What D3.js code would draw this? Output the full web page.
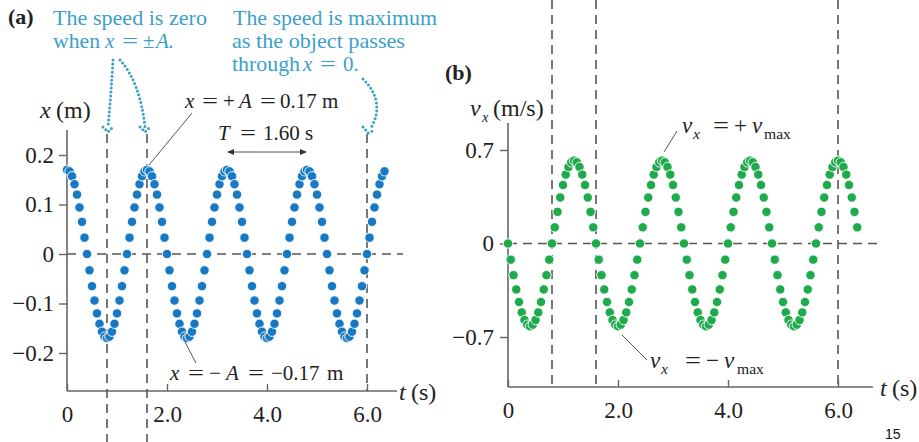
<!DOCTYPE html>
<html lang="en">
<head>
<meta charset="utf-8">
<script src="https://d3js.org/d3.v7.min.js"></script>
<title>Simple harmonic motion: x(t) and vx(t)</title>
<style>
  body { margin: 0; background: #fff; }
  svg { display: block; font-family: "Liberation Serif", "DejaVu Serif", serif; }
  .axis-line { stroke: #666; stroke-width: 1.6; fill: none; }
  .dash { stroke: #555; stroke-width: 1.6; stroke-dasharray: 9,6; fill: none; }
  .leader { stroke: #555; stroke-width: 1; fill: none; }
  .dotted { stroke: #3b9fcc; stroke-width: 3; stroke-linecap: round; stroke-dasharray: 0,4; fill: none; }
</style>
</head>
<body>
<svg id="chart" width="919" height="442"></svg>
<script>
// strobe samples, one every 0.05 s
var sampleTimes = [
  0, 0.05, 0.1, 0.15, 0.2, 0.25, 0.3, 0.35, 0.4, 0.45, 0.5, 0.55, 0.6, 0.65, 0.7, 0.75,
  0.8, 0.85, 0.9, 0.95, 1, 1.05, 1.1, 1.15, 1.2, 1.25, 1.3, 1.35, 1.4, 1.45, 1.5, 1.55,
  1.6, 1.65, 1.7, 1.75, 1.8, 1.85, 1.9, 1.95, 2, 2.05, 2.1, 2.15, 2.2, 2.25, 2.3, 2.35,
  2.4, 2.45, 2.5, 2.55, 2.6, 2.65, 2.7, 2.75, 2.8, 2.85, 2.9, 2.95, 3, 3.05, 3.1, 3.15,
  3.2, 3.25, 3.3, 3.35, 3.4, 3.45, 3.5, 3.55, 3.6, 3.65, 3.7, 3.75, 3.8, 3.85, 3.9, 3.95,
  4, 4.05, 4.1, 4.15, 4.2, 4.25, 4.3, 4.35, 4.4, 4.45, 4.5, 4.55, 4.6, 4.65, 4.7, 4.75,
  4.8, 4.85, 4.9, 4.95, 5, 5.05, 5.1, 5.15, 5.2, 5.25, 5.3, 5.35, 5.4, 5.45, 5.5, 5.55,
  5.6, 5.65, 5.7, 5.75, 5.8, 5.85, 5.9, 5.95, 6, 6.05, 6.1, 6.15, 6.2, 6.25, 6.3, 6.35
];

// x (m)
var positions = [
  0.170, 0.167, 0.157, 0.141, 0.120, 0.094, 0.065, 0.033, 0, -0.033, -0.065, -0.094, -0.120, -0.141, -0.157, -0.167,
  -0.170, -0.167, -0.157, -0.141, -0.120, -0.094, -0.065, -0.033, 0, 0.033, 0.065, 0.094, 0.120, 0.141, 0.157, 0.167,
  0.170, 0.167, 0.157, 0.141, 0.120, 0.094, 0.065, 0.033, 0, -0.033, -0.065, -0.094, -0.120, -0.141, -0.157, -0.167,
  -0.170, -0.167, -0.157, -0.141, -0.120, -0.094, -0.065, -0.033, 0, 0.033, 0.065, 0.094, 0.120, 0.141, 0.157, 0.167,
  0.170, 0.167, 0.157, 0.141, 0.120, 0.094, 0.065, 0.033, 0, -0.033, -0.065, -0.094, -0.120, -0.141, -0.157, -0.167,
  -0.170, -0.167, -0.157, -0.141, -0.120, -0.094, -0.065, -0.033, 0, 0.033, 0.065, 0.094, 0.120, 0.141, 0.157, 0.167,
  0.170, 0.167, 0.157, 0.141, 0.120, 0.094, 0.065, 0.033, 0, -0.033, -0.065, -0.094, -0.120, -0.141, -0.157, -0.167,
  -0.170, -0.167, -0.157, -0.141, -0.120, -0.094, -0.065, -0.033, 0, 0.033, 0.065, 0.094, 0.120, 0.141, 0.157, 0.167
];

// vx (m/s)
var velocities = [
  0, -0.121, -0.237, -0.344, -0.438, -0.516, -0.573, -0.608, -0.620, -0.608, -0.573, -0.516, -0.438, -0.344, -0.237, -0.121,
  0, 0.121, 0.237, 0.344, 0.438, 0.516, 0.573, 0.608, 0.620, 0.608, 0.573, 0.516, 0.438, 0.344, 0.237, 0.121,
  0, -0.121, -0.237, -0.344, -0.438, -0.516, -0.573, -0.608, -0.620, -0.608, -0.573, -0.516, -0.438, -0.344, -0.237, -0.121,
  0, 0.121, 0.237, 0.344, 0.438, 0.516, 0.573, 0.608, 0.620, 0.608, 0.573, 0.516, 0.438, 0.344, 0.237, 0.121,
  0, -0.121, -0.237, -0.344, -0.438, -0.516, -0.573, -0.608, -0.620, -0.608, -0.573, -0.516, -0.438, -0.344, -0.237, -0.121,
  0, 0.121, 0.237, 0.344, 0.438, 0.516, 0.573, 0.608, 0.620, 0.608, 0.573, 0.516, 0.438, 0.344, 0.237, 0.121,
  0, -0.121, -0.237, -0.344, -0.438, -0.516, -0.573, -0.608, -0.620, -0.608, -0.573, -0.516, -0.438, -0.344, -0.237, -0.121,
  0, 0.121, 0.237, 0.344, 0.438, 0.516, 0.573, 0.608, 0.620, 0.608, 0.573, 0.516, 0.438, 0.344, 0.237, 0.121
];

var timeTicks = [0, 2, 4, 6];
var timeTickLabels = ["0", "2.0", "4.0", "6.0"];
var posTicks = [-0.2, -0.1, 0, 0.1, 0.2];
var posTickLabels = ["\u22120.2", "\u22120.1", "0", "0.1", "0.2"];
var velTicks = [-0.7, 0, 0.7];
var velTickLabels = ["\u22120.7", "0", "0.7"];
var markerTimes = [0.8, 1.6, 6.0];

var blue = "#1779c4", green = "#1faa4b", noteBlue = "#3b9fcc", ink = "#222";

var svg = d3.select("#chart");

// scales
var xA = d3.scaleLinear().domain([0, 6]).range([67, 367]);
var yA = d3.scaleLinear().domain([-0.2, 0.2]).range([353, 155]);
var xB = d3.scaleLinear().domain([0, 6]).range([508, 838]);
var yB = d3.scaleLinear().domain([-0.7, 0.7]).range([337, 150]);

var axisA = 391, axisB = 387;

function styleAxis(g) {
  g.attr("font-family", null).attr("font-size", 23);
  g.select(".domain").remove();
  g.selectAll(".tick line").attr("stroke", "#666").attr("stroke-width", 1.4);
  g.selectAll(".tick text").attr("fill", ink);
}

// ---------- panel (a) ----------
var ga = svg.append("g");

ga.append("line").attr("class", "dash")
  .attr("x1", xA(0)).attr("x2", 403).attr("y1", yA(0)).attr("y2", yA(0));
markerTimes.forEach(function(t, i) {
  ga.append("line").attr("class", "dash")
    .attr("x1", xA(t)).attr("x2", xA(t))
    .attr("y1", 134).attr("y2", i < 2 ? 442 : axisA);
});

ga.append("g")
  .attr("transform", "translate(0," + axisA + ")")
  .call(d3.axisBottom(xA).tickValues(timeTicks).tickSizeInner(-7).tickSizeOuter(0).tickPadding(15)
    .tickFormat(function(d, i) { return timeTickLabels[i]; }))
  .call(styleAxis);

ga.append("g")
  .attr("transform", "translate(" + xA(0) + ",0)")
  .call(d3.axisLeft(yA).tickValues(posTicks).tickSizeInner(8).tickSizeOuter(0).tickPadding(5)
    .tickFormat(function(d, i) { return posTickLabels[i]; }))
  .call(styleAxis);

ga.append("line").attr("class", "axis-line")
  .attr("x1", xA(0)).attr("x2", xA(0)).attr("y1", axisA).attr("y2", 130);
ga.append("line").attr("class", "axis-line")
  .attr("x1", xA(0)).attr("x2", 397).attr("y1", axisA).attr("y2", axisA);

ga.selectAll("circle")
  .data(sampleTimes)
  .enter().append("circle")
    .attr("cx", function(d) { return xA(d); })
    .attr("cy", function(d, i) { return yA(positions[i]); })
    .attr("r", 4.7)
    .attr("fill", blue)
    .attr("stroke", "#fff")
    .attr("stroke-width", 0.9);

// ---------- panel (b) ----------
var gb = svg.append("g");

gb.append("line").attr("class", "dash")
  .attr("x1", xB(0)).attr("x2", 877).attr("y1", yB(0)).attr("y2", yB(0));
markerTimes.forEach(function(t) {
  gb.append("line").attr("class", "dash")
    .attr("x1", xB(t)).attr("x2", xB(t)).attr("y1", 0).attr("y2", 385);
});

gb.append("g")
  .attr("transform", "translate(0," + axisB + ")")
  .call(d3.axisBottom(xB).tickValues(timeTicks).tickSizeInner(-7).tickSizeOuter(0).tickPadding(15)
    .tickFormat(function(d, i) { return timeTickLabels[i]; }))
  .call(styleAxis);

gb.append("g")
  .attr("transform", "translate(" + xB(0) + ",0)")
  .call(d3.axisLeft(yB).tickValues(velTicks).tickSizeInner(8).tickSizeOuter(0).tickPadding(6)
    .tickFormat(function(d, i) { return velTickLabels[i]; }))
  .call(styleAxis);

gb.append("line").attr("class", "axis-line")
  .attr("x1", xB(0)).attr("x2", xB(0)).attr("y1", axisB).attr("y2", 123);
gb.append("line").attr("class", "axis-line")
  .attr("x1", xB(0)).attr("x2", 873).attr("y1", axisB).attr("y2", axisB);

gb.selectAll("circle")
  .data(sampleTimes)
  .enter().append("circle")
    .attr("cx", function(d) { return xB(d); })
    .attr("cy", function(d, i) { return yB(velocities[i]); })
    .attr("r", 4.7)
    .attr("fill", green)
    .attr("stroke", "#fff")
    .attr("stroke-width", 0.9);

// ---------- text helpers ----------
// parts: [text, x, opts] ; opts.it italic, opts.sub subscript, opts.bold, opts.w stretch width
function mtext(y, parts, size, color, subScale) {
  var t = svg.append("text").attr("font-size", size).attr("fill", color || ink);
  parts.forEach(function(p) {
    var o = p[2] || {};
    var s = t.append("tspan").attr("x", p[1]).attr("y", o.sub ? y + 6 : y).text(p[0]);
    if (o.it) s.attr("font-style", "italic");
    if (o.sub) s.attr("font-size", size * (subScale || 0.6));
    if (o.bold) s.attr("font-weight", "bold");
    if (o.w) s.attr("textLength", o.w).attr("lengthAdjust", "spacingAndGlyphs");
  });
  return t;
}

function line(x1, y1, x2, y2, cls) {
  svg.append("line").attr("class", cls || "leader")
    .attr("x1", x1).attr("y1", y1).attr("x2", x2).attr("y2", y2);
}

var EQ = {w: 16};
var note = 21, title = 24;

// panel labels
mtext(24, [["(a)", 8, {bold: true}]], 22);
mtext(80, [["(b)", 445, {bold: true}]], 22);

// axis titles
mtext(118, [["x", 40, {it: true}], ["(m)", 56]], title);
mtext(400, [["t", 399, {it: true}], ["(s)", 411]], title);
mtext(116, [["v", 470, {it: true}], ["x", 482, {it: true, sub: true}], ["(m/s)", 493]], title);
mtext(396, [["t", 880, {it: true}], ["(s)", 892]], title);

// blue notes
mtext(25, [["The speed is zero", 53, {w: 154}]], note, noteBlue);
mtext(48, [["when", 53, {w: 47}], ["x", 105, {it: true}], ["=", 122, EQ], ["\u00b1", 143], ["A.", 156, {it: true}]], note, noteBlue);
mtext(25, [["The speed is maximum", 233, {w: 204}]], note, noteBlue);
mtext(48, [["as the object passes", 232, {w: 173}]], note, noteBlue);
mtext(71, [["through", 232, {w: 68}], ["x", 303, {it: true}], ["=", 320, EQ], ["0.", 343]], note, noteBlue);

// dotted arrows
var dotted = [
  "M113,60 Q111,95 108,127",
  "M120,60 Q140,82 145,127",
  "M363,79 C380,95 380,115 370,129"
];
dotted.forEach(function(d) { svg.append("path").attr("class", "dotted").attr("d", d); });
svg.append("path").attr("class", "dotted").attr("d", "M103,127 L108,132 L113,127");
svg.append("path").attr("class", "dotted").attr("d", "M140,127 L145,132 L150,127");
svg.append("path").attr("class", "dotted").attr("d", "M363,127 L368,133 L375,130");

// amplitude notes
mtext(108, [["x", 185, {it: true}], ["=", 202, EQ], ["+", 223], ["A", 239, {it: true}], ["=", 260, EQ], ["0.17", 280], ["m", 322]], note);
line(192, 113, 149, 165);
mtext(380, [["x", 170, {it: true}], ["=", 188, EQ], ["\u2212", 209], ["A", 226, {it: true}], ["=", 248, EQ], ["\u22120.17", 271], ["m", 327]], note);
line(185, 342, 196, 363);

// period
mtext(140, [["T", 218, {it: true}], ["=", 240, EQ], ["1.60", 263], ["s", 305]], note);
var tArrowY = 152;
line(xA(3.2) + 1, tArrowY, xA(4.8) - 1, tArrowY, "leader");
svg.append("path").attr("fill", "#333")
  .attr("d", "M" + xA(3.2) + "," + tArrowY + " l7,-3 v6 z");
svg.append("path").attr("fill", "#333")
  .attr("d", "M" + xA(4.8) + "," + tArrowY + " l-7,-3 v6 z");

// velocity notes
mtext(133, [["v", 682, {it: true}], ["x", 693, {it: true, sub: true}], ["=", 713, EQ], ["+", 734], ["v", 752, {it: true}], ["max", 764, {sub: true}]], 23, ink, 0.68);
line(677, 131, 664, 152);
mtext(368, [["v", 650, {it: true}], ["x", 661, {it: true, sub: true}], ["=", 685, EQ], ["\u2212", 706], ["v", 724, {it: true}], ["max", 737, {sub: true}]], 23, ink, 0.68);
line(622, 335, 647, 360);

// page number
svg.append("text").attr("x", 885).attr("y", 439)
  .attr("font-family", "'Liberation Sans', Arial, sans-serif")
  .attr("font-size", 14).attr("fill", "#111").text("15");
</script>
</body>
</html>
